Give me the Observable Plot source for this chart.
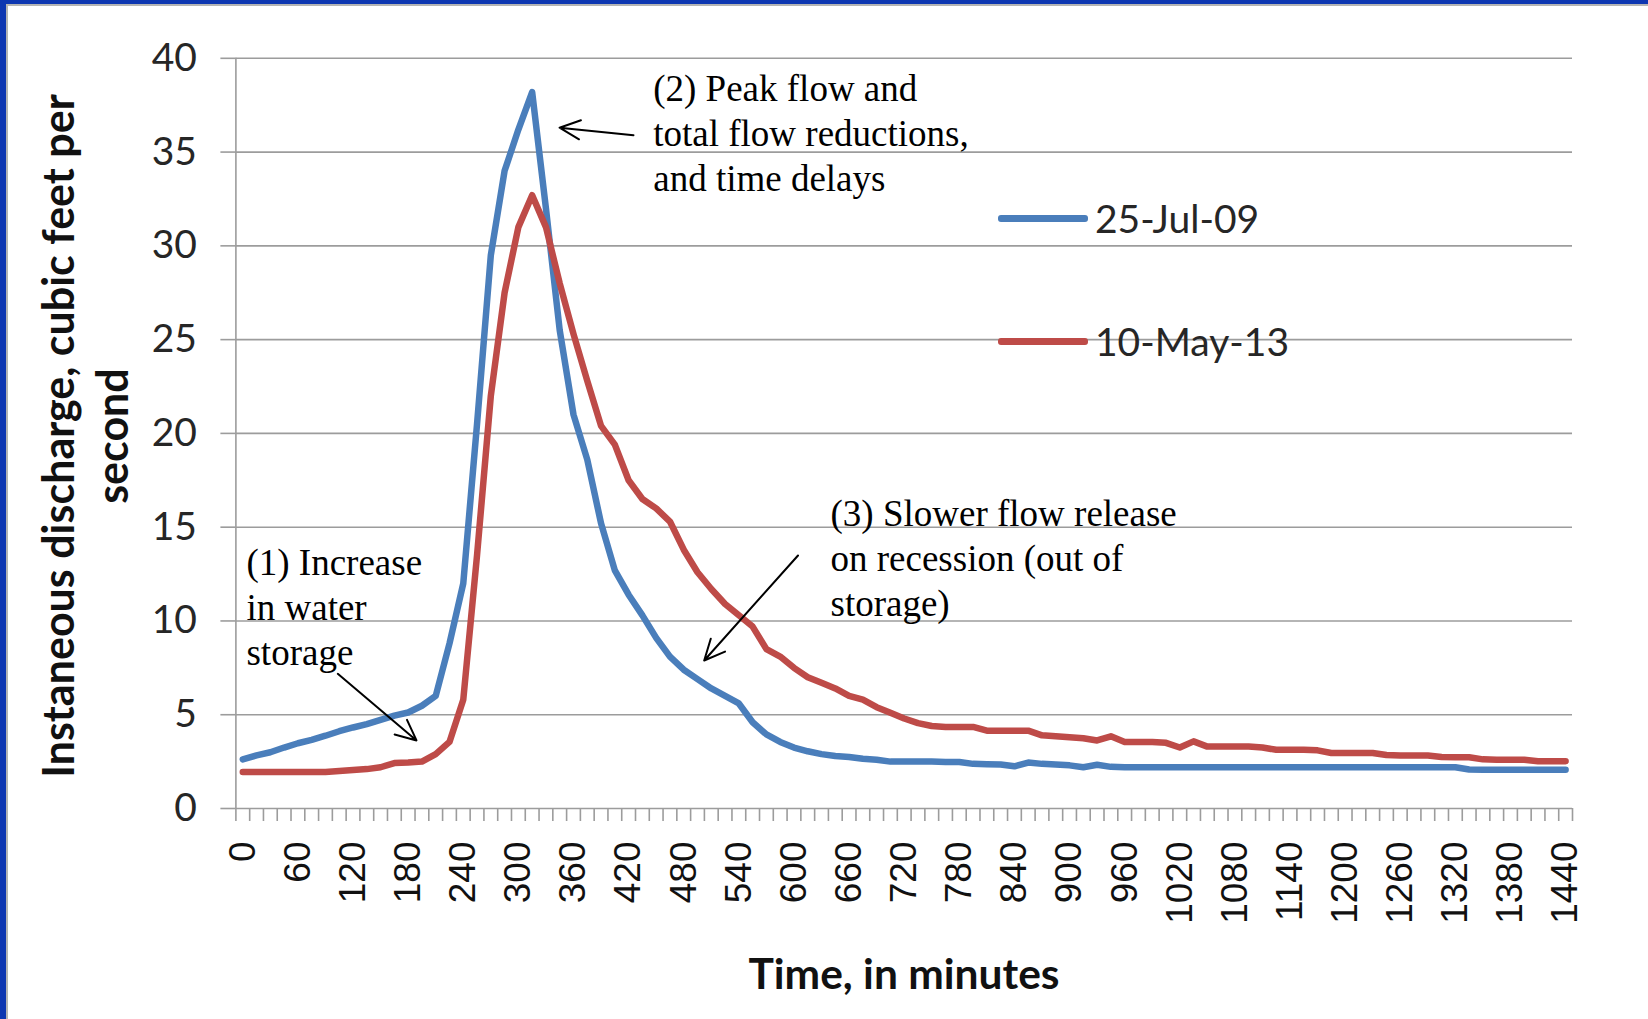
<!DOCTYPE html>
<html>
<head>
<meta charset="utf-8">
<script src="https://cdn.jsdelivr.net/npm/d3@7"></script>
<script src="https://cdn.jsdelivr.net/npm/@observablehq/plot@0.6"></script>
<style>
  html, body { margin: 0; padding: 0; background: #fff; }
  #wrap { position: relative; width: 1648px; height: 1019px; overflow: hidden; background: #fff; }
  #wrap svg { position: absolute; left: 0; top: 0; }
  .bar { position: absolute; }
  .leg { position: absolute; font-family: Lato, "Open Sans", sans-serif; font-size: 39px; color: #262626; white-space: nowrap; line-height: 1; }
  .sw { position: absolute; height: 6px; border-radius: 3px; }
  .ytitle { position: absolute; width: 800px; left: -315px; top: 382px; height: 108px; transform: rotate(-90deg); transform-origin: 50% 50%;
            font-family: Lato, sans-serif; font-weight: bold; font-size: 43px; line-height: 54px; text-align: center; color: #111; white-space: nowrap; }
  .xtitle { position: absolute; left: 604px; width: 600px; top: 949px; text-align: center; font-family: Lato, sans-serif; font-weight: bold; font-size: 42.5px; line-height: 48px; color: #111; }
</style>
</head>
<body>
<div id="wrap">
  <div class="ytitle">Instaneous discharge, cubic feet per<br>second</div>
  <div class="xtitle">Time, in minutes</div>
</div>
<script>
// ---- data ----
const times = [
  0, 15, 30, 45, 60, 75, 90, 105, 120, 135, 150, 165, 180, 195, 210, 225,
  240, 255, 270, 285, 300, 315, 330, 345, 360, 375, 390, 405, 420, 435, 450, 465,
  480, 495, 510, 525, 540, 555, 570, 585, 600, 615, 630, 645, 660, 675, 690, 705,
  720, 735, 750, 765, 780, 795, 810, 825, 840, 855, 870, 885, 900, 915, 930, 945,
  960, 975, 990, 1005, 1020, 1035, 1050, 1065, 1080, 1095, 1110, 1125, 1140, 1155, 1170, 1185,
  1200, 1215, 1230, 1245, 1260, 1275, 1290, 1305, 1320, 1335, 1350, 1365, 1380, 1395, 1410, 1425,
  1440
];
const jul09 = [
  2.62, 2.83, 3.0, 3.25,
  3.48, 3.66, 3.88, 4.12,
  4.32, 4.5, 4.72, 4.95,
  5.12, 5.48, 6.0, 8.8,
  12.0, 20.5, 29.5, 34.0,
  36.2, 38.2, 32.0, 25.5,
  21.0, 18.6, 15.2, 12.7,
  11.4, 10.3, 9.1, 8.1,
  7.4, 6.9, 6.4, 6.0,
  5.6, 4.6, 3.95, 3.55,
  3.25, 3.05, 2.9, 2.8,
  2.75, 2.65, 2.6, 2.5,
  2.5, 2.5, 2.5, 2.48,
  2.48, 2.38, 2.36, 2.35,
  2.25, 2.45, 2.38, 2.35,
  2.3, 2.2, 2.33, 2.22,
  2.2, 2.2, 2.2, 2.2,
  2.2, 2.2, 2.2, 2.2,
  2.2, 2.2, 2.2, 2.2,
  2.2, 2.2, 2.2, 2.2,
  2.2, 2.2, 2.2, 2.2,
  2.2, 2.2, 2.2, 2.2,
  2.2, 2.08, 2.07, 2.07,
  2.07, 2.07, 2.07, 2.07,
  2.07
];
const may13 = [
  1.95, 1.95, 1.95, 1.95,
  1.95, 1.95, 1.95, 2.0,
  2.05, 2.1, 2.2, 2.42,
  2.45, 2.5, 2.9, 3.55,
  5.8, 13.5, 22.0, 27.5,
  31.0, 32.7, 31.0, 28.0,
  25.3, 22.8, 20.4, 19.4,
  17.5, 16.5, 16.0, 15.3,
  13.8, 12.6, 11.7, 10.9,
  10.3, 9.7, 8.5, 8.1,
  7.5, 7.0, 6.7, 6.4,
  6.0, 5.8, 5.4, 5.1,
  4.8, 4.55, 4.4, 4.35,
  4.35, 4.35, 4.15, 4.15,
  4.15, 4.15, 3.9, 3.85,
  3.8, 3.75, 3.63, 3.85,
  3.55, 3.55, 3.55, 3.5,
  3.25, 3.58, 3.3, 3.3,
  3.3, 3.3, 3.25, 3.13,
  3.13, 3.13, 3.1, 2.96,
  2.96, 2.96, 2.96, 2.85,
  2.83, 2.83, 2.83, 2.75,
  2.73, 2.73, 2.62, 2.6,
  2.6, 2.6, 2.52, 2.52,
  2.52
];
const seriesNames = ["25-Jul-09", "10-May-13"];
const xTickLabels = [0, 60, 120, 180, 240, 300, 360, 420, 480, 540, 600, 660, 720, 780, 840, 900, 960, 1020, 1080, 1140, 1200, 1260, 1320, 1380, 1440];
const yTickLabels = [0, 5, 10, 15, 20, 25, 30, 35, 40];
const annotations = [
  {t: 4, v: 14.14, text: "(1) Increase\nin water\nstorage"},
  {t: 446.8, v: 39.41, text: "(2) Peak flow and\ntotal flow reductions,\nand time delays"},
  {t: 639.8, v: 16.78, text: "(3) Slower flow release\non recession (out of\nstorage)"}
];
const arrows = [
  {t1: 103.4, v1: 7.18, t2: 189.1, v2: 3.63},
  {t1: 425.3, v1: 35.9, t2: 344.8, v2: 36.3},
  {t1: 604.4, v1: 13.49, t2: 502.3, v2: 7.89}
];

// ---- style ----
const BLUE = "#4a7ebb", RED = "#be4b48", GRID = "#9c9c9c";

const blueRows = times.map((t, i) => ({t, v: jul09[i]}));
const redRows = times.map((t, i) => ({t, v: may13[i]}));
// category boundaries (Excel category axis with tick marks between categories)
const tickBounds = times.map(t => t - 7.5).concat([times[times.length - 1] + 7.5]);

const chart = Plot.plot({
  width: 1648,
  height: 1019,
  marginLeft: 235.4,
  marginRight: 76,
  marginTop: 57.8,
  marginBottom: 211,
  x: {type: "linear", domain: [-7.5, 1447.5]},
  y: {type: "linear", domain: [0, 40]},
  style: {background: "transparent", overflow: "visible"},
  marks: [
    Plot.gridY(yTickLabels.filter(d => d > 0), {stroke: GRID, strokeOpacity: 1, strokeWidth: 1.6}),
    Plot.axisY(yTickLabels, {tickSize: 15, tickPadding: 24, stroke: GRID, strokeWidth: 1.6, fill: "#262626",
      fontSize: 39, fontFamily: "Lato, 'Open Sans', sans-serif", label: null}),
    Plot.ruleX([-7.5], {stroke: GRID, strokeWidth: 1.6}),
    Plot.ruleY([0], {stroke: GRID, strokeWidth: 1.6}),
    Plot.axisX(tickBounds, {tickSize: 13, tickFormat: () => "", stroke: GRID, strokeWidth: 1.6, label: null}),
    Plot.axisX(xTickLabels, {tickSize: 0, tickPadding: 33, tickRotate: -90, fill: "#111", tickFormat: d => String(d),
      fontSize: 37, fontFamily: "'Liberation Sans', Arial, sans-serif", label: null}),
    Plot.line(blueRows, {x: "t", y: "v", stroke: BLUE, strokeWidth: 6.5, strokeLinejoin: "round", strokeLinecap: "round"}),
    Plot.line(redRows, {x: "t", y: "v", stroke: RED, strokeWidth: 6.5, strokeLinejoin: "round", strokeLinecap: "round"}),
    Plot.arrow(arrows, {x1: "t1", y1: "v1", x2: "t2", y2: "v2", stroke: "#000", strokeWidth: 2,
      headLength: 17, headAngle: 50, inset: 0}),
    Plot.text(annotations, {x: "t", y: "v", text: "text", textAnchor: "start", lineAnchor: "top",
      lineHeight: 1.216, fontSize: 37, fontFamily: "'Liberation Serif', 'Times New Roman', serif", fill: "#000"})
  ]
});

const wrap = document.getElementById("wrap");
wrap.insertBefore(chart, wrap.firstChild);

// legend (HTML overlay)
const legendItems = [
  {name: seriesNames[0], color: BLUE, cy: 218.6},
  {name: seriesNames[1], color: RED, cy: 341.6}
];
for (const it of legendItems) {
  const sw = document.createElement("div");
  sw.className = "sw";
  sw.style.left = "998px";
  sw.style.width = "90px";
  sw.style.top = (it.cy - 3.25) + "px";
  sw.style.height = "6.5px";
  sw.style.background = it.color;
  wrap.appendChild(sw);
  const tx = document.createElement("div");
  tx.className = "leg";
  tx.textContent = it.name;
  tx.style.left = "1095px";
  tx.style.top = (it.cy - 20) + "px";
  wrap.appendChild(tx);
}

// frame bars
const bars = [
  {l: 0, t: 0, w: 1648, h: 4, c: "#0d36b1"},
  {l: 0, t: 4, w: 1648, h: 2, c: "#b4b4b4"},
  {l: 0, t: 0, w: 6, h: 1019, c: "#0d36b1"},
  {l: 6, t: 4, w: 2, h: 1015, c: "#b4b4b4"}
];
for (const b of bars) {
  const d = document.createElement("div");
  d.className = "bar";
  Object.assign(d.style, {left: b.l + "px", top: b.t + "px", width: b.w + "px", height: b.h + "px", background: b.c});
  wrap.appendChild(d);
}
</script>
</body>
</html>
